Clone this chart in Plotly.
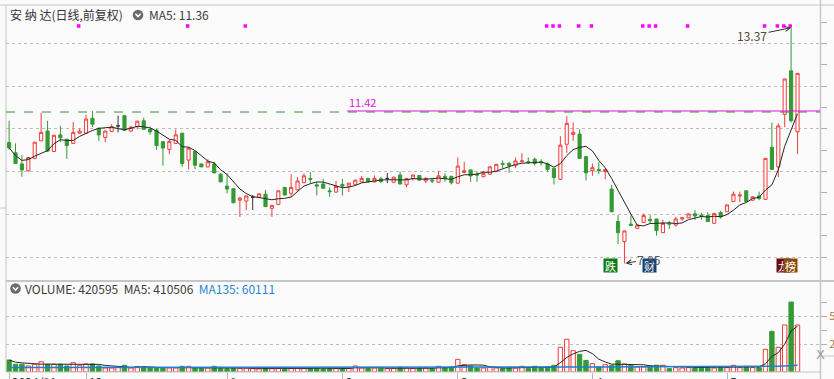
import plotly.graph_objects as go
import pandas as pd

# ---------------- data ----------------
opens = [10.68, 10.44, 10.18, 10.02, 10.31, 10.72, 10.95, 10.47, 10.86, 10.76,
         10.66, 10.90, 10.90, 11.25, 11.01, 10.80, 10.94, 11.07, 11.31, 10.95,
         11.05, 11.19, 10.99, 10.97, 10.70, 10.52, 10.66, 10.90, 10.27, 10.47,
         10.18, 10.11, 10.18, 9.94, 9.66, 9.60, 9.33, 9.31, 9.40, 9.40,
         9.47, 9.14, 9.23, 9.63, 9.49, 9.57, 9.74, 9.84, 9.69, 9.71,
         9.55, 9.52, 9.70, 9.66, 9.70, 9.76, 9.84, 9.76, 9.83, 9.84,
         9.75, 9.92, 9.69, 9.84, 9.91, 9.78, 9.80, 9.75, 9.89, 9.89,
         9.73, 9.98, 10.04, 9.94, 9.88, 9.94, 10.00, 10.19, 10.19, 10.14,
         10.23, 10.23, 10.29, 10.23, 10.18, 10.08, 9.82, 10.64, 10.87, 10.88,
         10.35, 10.02, 10.05, 10.00, 9.59, 8.83, 8.36, 8.77, 8.67, 8.81,
         8.88, 8.89, 8.57, 8.79, 8.75, 8.89, 8.92, 9.01, 8.98, 8.97,
         8.79, 9.04, 9.06, 9.30, 9.43, 9.55, 9.33, 9.43, 9.35, 10.57,
         10.11, 11.34, 12.36, 10.93]
highs = [11.19, 10.66, 10.39, 10.33, 10.69, 11.38, 11.19, 10.86, 11.07, 10.76,
         11.16, 11.01, 11.33, 11.42, 11.04, 10.96, 11.11, 11.31, 11.33, 11.07,
         11.19, 11.26, 11.06, 11.00, 10.70, 10.75, 10.99, 10.90, 10.58, 10.48,
         10.18, 10.29, 10.23, 9.97, 9.96, 9.60, 9.41, 9.43, 9.45, 9.48,
         9.57, 9.22, 9.55, 9.63, 9.94, 9.87, 9.96, 9.99, 9.76, 9.83,
         9.63, 9.78, 9.83, 9.73, 9.81, 9.90, 9.84, 9.91, 9.88, 9.97,
         9.87, 10.00, 9.85, 9.93, 9.91, 9.87, 9.84, 10.02, 9.96, 9.90,
         10.33, 10.23, 10.05, 10.00, 10.02, 10.12, 10.18, 10.26, 10.23, 10.33,
         10.43, 10.33, 10.33, 10.29, 10.21, 10.08, 10.83, 11.30, 11.15, 10.99,
         10.36, 10.19, 10.23, 10.06, 9.69, 8.98, 8.62, 8.97, 8.75, 9.02,
         8.98, 8.90, 8.87, 8.84, 8.94, 8.92, 9.01, 9.10, 9.04, 9.05,
         9.03, 9.08, 9.22, 9.53, 9.53, 9.55, 9.42, 9.53, 10.31, 11.15,
         11.13, 12.17, 13.37, 12.30]
lows = [10.51, 10.19, 9.88, 10.00, 10.29, 10.72, 10.46, 10.46, 10.69, 10.30,
        10.65, 10.88, 10.88, 11.04, 10.72, 10.69, 10.93, 10.92, 10.96, 10.93,
        10.99, 10.98, 10.86, 10.51, 10.14, 10.41, 10.65, 10.11, 10.05, 10.06,
        10.11, 10.10, 9.96, 9.75, 9.49, 9.26, 8.94, 9.10, 9.10, 9.40,
        9.17, 8.94, 9.23, 9.45, 9.41, 9.56, 9.74, 9.71, 9.44, 9.60,
        9.41, 9.51, 9.44, 9.52, 9.70, 9.76, 9.75, 9.75, 9.73, 9.73,
        9.74, 9.70, 9.63, 9.79, 9.79, 9.73, 9.73, 9.74, 9.76, 9.70,
        9.72, 9.96, 9.76, 9.76, 9.87, 9.93, 9.99, 10.08, 9.97, 10.08,
        10.22, 10.18, 10.14, 10.14, 10.00, 9.70, 9.81, 10.44, 10.72, 10.30,
        9.79, 9.90, 9.94, 9.82, 9.05, 8.30, 7.85, 8.73, 8.66, 8.80,
        8.79, 8.50, 8.56, 8.66, 8.71, 8.85, 8.92, 8.87, 8.87, 8.82,
        8.78, 8.90, 9.06, 9.29, 9.29, 9.29, 9.32, 9.33, 9.34, 10.04,
        9.87, 11.04, 11.15, 10.41]
closes = [10.56, 10.19, 10.04, 10.33, 10.69, 10.92, 10.48, 10.85, 10.79, 10.61,
          10.92, 10.95, 11.23, 11.11, 10.86, 10.95, 11.05, 11.07, 10.97, 11.04,
          11.18, 10.99, 10.93, 10.61, 10.55, 10.71, 10.86, 10.19, 10.55, 10.15,
          10.11, 10.23, 9.97, 9.76, 9.59, 9.27, 9.38, 9.43, 9.40, 9.48,
          9.18, 9.21, 9.55, 9.45, 9.63, 9.78, 9.90, 9.82, 9.66, 9.61,
          9.53, 9.65, 9.66, 9.73, 9.80, 9.84, 9.76, 9.84, 9.77, 9.84,
          9.87, 9.71, 9.84, 9.92, 9.80, 9.84, 9.78, 9.90, 9.84, 9.74,
          10.13, 10.02, 9.90, 9.92, 9.96, 10.11, 10.17, 10.17, 10.14, 10.25,
          10.25, 10.21, 10.19, 10.21, 10.05, 9.86, 10.62, 11.13, 10.92, 10.31,
          9.97, 10.09, 10.02, 10.05, 9.06, 8.57, 8.61, 8.74, 8.75, 8.97,
          8.85, 8.62, 8.79, 8.77, 8.89, 8.92, 9.01, 8.96, 8.96, 8.83,
          9.02, 8.94, 9.22, 9.47, 9.45, 9.30, 9.41, 9.37, 10.31, 10.05,
          11.07, 12.17, 11.19, 12.30]
volumes = [107000, 69000, 69000, 54000, 69000, 92000, 69000, 69000, 69000, 54000,
           83000, 60000, 72000, 72000, 54000, 36000, 36000, 40000, 60000, 36000,
           48000, 48000, 36000, 36000, 36000, 36000, 36000, 51000, 51000, 36000,
           36000, 36000, 51000, 42000, 30000, 36000, 33000, 36000, 30000, 27000,
           36000, 30000, 33000, 27000, 36000, 36000, 33000, 30000, 36000, 27000,
           30000, 33000, 36000, 33000, 54000, 36000, 33000, 36000, 36000, 30000,
           33000, 42000, 36000, 33000, 36000, 36000, 30000, 51000, 36000, 45000,
           113000, 66000, 54000, 36000, 36000, 42000, 36000, 33000, 36000, 36000,
           51000, 33000, 51000, 36000, 45000, 60000, 221000, 293000, 191000, 158000,
           104000, 75000, 45000, 66000, 60000, 101000, 72000, 60000, 45000, 45000,
           54000, 60000, 60000, 30000, 39000, 36000, 39000, 48000, 39000, 48000,
           36000, 39000, 39000, 60000, 39000, 51000, 39000, 39000, 203000, 364000,
           221000, 420935, 626000, 420595]
vol_ma135 = [41000, 41000, 40900, 40900, 40900, 40800, 40800, 40800, 40700, 40700,
             40700, 40600, 40600, 40600, 40500, 40500, 40500, 40400, 40400, 40400,
             40300, 40300, 40300, 40200, 40200, 40200, 40100, 40100, 40100, 40000,
             40000, 40000, 39900, 39900, 39900, 39800, 39800, 39800, 39700, 39700,
             39700, 39600, 39600, 39600, 39500, 39500, 39500, 39400, 39400, 39400,
             39300, 39300, 39300, 39200, 39200, 39200, 39100, 39100, 39100, 39000,
             39000, 39000, 39000, 38900, 38900, 38900, 38900, 38800, 38800, 38800,
             39400, 39600, 39700, 39700, 39700, 39700, 39700, 39700, 39700, 39700,
             39800, 39800, 39800, 39800, 39800, 39900, 41300, 43200, 44300, 45200,
             45700, 46000, 46000, 46100, 46100, 46600, 46800, 46900, 46900, 46900,
             46800, 46800, 46800, 46700, 46700, 46700, 46600, 46600, 46600, 46500,
             46500, 46500, 46400, 46500, 46400, 46400, 46300, 46300, 47800, 50200,
             51600, 54300, 58900, 60111]

month_idx = [0, 12, 34, 52, 70, 91, 112]
month_labels = ["2024/11", "12", "1", "2", "3", "4", "5"]
signal_idx = [11, 28, 37, 84, 85, 86, 89, 91, 99, 100, 101, 106, 118, 120, 121, 122]
ref_price = 11.42
ref_start = 52.7
badges = [("跌", 93.8, "#0b7a12"), ("财", 99.9, "#17406e"),
          ("龙", 120.8, "#6e0d0d"), ("榜", 121.9, "#8a4a08")]
name = "安 纳 达(日线,前复权)"

# ---------------- geometry ----------------
W, H = 834, 379
ML, MR, MT, MB = 6, 14, 5, 7
PW, PH = W - ML - MR, H - MT - MB

def pxx(p):
    return (p - ML) / PW

def pxy(p):
    return (H - MB - p) / PH

RED = "#f43c3c"
GREEN = "#349a34"
BG = "#fbfbfb"
GRID = "#bdbdbd"
FRAME = "#c6c6c6"
FONT = "Noto Sans CJK SC, Noto Sans, sans-serif"

n = len(closes)
idx = list(range(n))
doji = [o == c for o, c in zip(opens, closes)]

def pick(arr, keep):
    return [v if k else None for v, k in zip(arr, keep)]

normal = [not d for d in doji]
ma5 = pd.Series(closes).rolling(5, min_periods=1).mean().round(3).tolist()
vma5 = pd.Series(volumes).rolling(5, min_periods=1).mean().tolist()

fig = go.Figure()
fig.add_trace(go.Candlestick(
    x=idx, open=pick(opens, normal), high=pick(highs, normal),
    low=pick(lows, normal), close=pick(closes, normal),
    increasing=dict(line=dict(color=RED, width=1), fillcolor=BG),
    decreasing=dict(line=dict(color=GREEN, width=1), fillcolor=GREEN),
    whiskerwidth=0, xaxis="x", yaxis="y", showlegend=False, hoverinfo="skip"))
fig.add_trace(go.Candlestick(
    x=idx, open=pick(opens, doji), high=pick(highs, doji),
    low=pick(lows, doji), close=pick(closes, doji),
    increasing=dict(line=dict(color="#333333", width=1), fillcolor="#333333"),
    decreasing=dict(line=dict(color="#333333", width=1), fillcolor="#333333"),
    whiskerwidth=0, xaxis="x", yaxis="y", showlegend=False, hoverinfo="skip"))
fig.add_trace(go.Scatter(x=idx, y=ma5, mode="lines", line=dict(color="#262626", width=1),
                         xaxis="x", yaxis="y", showlegend=False, hoverinfo="skip"))
SIGNAL_LEVEL = 13.41
fig.add_trace(go.Scatter(x=[i - 0.15 for i in signal_idx], y=[SIGNAL_LEVEL] * len(signal_idx),
                         mode="markers", marker=dict(symbol="square", size=3.5, color="#ff00ff", line=dict(width=0)),
                         xaxis="x", yaxis="y", showlegend=False, hoverinfo="skip"))

up = [c >= o for o, c in zip(opens, closes)]
fig.add_trace(go.Bar(
    x=idx, y=volumes, width=0.68,
    marker=dict(color=[BG if u else GREEN for u in up],
                line=dict(color=[RED if u else GREEN for u in up], width=1)),
    xaxis="x2", yaxis="y2", showlegend=False, hoverinfo="skip"))
fig.add_trace(go.Scatter(x=idx, y=vma5, mode="lines", line=dict(color="#262626", width=1),
                         xaxis="x2", yaxis="y2", showlegend=False, hoverinfo="skip"))
fig.add_trace(go.Scatter(x=idx, y=vol_ma135, mode="lines", line=dict(color="#1f7ed6", width=1.5),
                         xaxis="x2", yaxis="y2", showlegend=False, hoverinfo="skip"))

xr = [(ML - 9.1) / 6.41, (W - MR - 9.1) / 6.41]
p_lo, p_hi = 8 - (280 - 257) / 42.7, 8 + (257 - MT) / 42.7
v_hi = (H - MB - 281) * 8949

shapes = []
def line(x0, y0, x1, y1, color=FRAME, width=1, dash=None):
    d = dict(type="line", xref="paper", yref="paper", x0=pxx(x0), y0=pxy(y0), x1=pxx(x1), y1=pxy(y1),
             line=dict(color=color, width=width), layer="above")
    if dash:
        d["line"]["dash"] = dash
    shapes.append(d)

line(6, 5, 6, 372)
line(0, 5, W, 5)
line(820.5, 0, 820.5, H, width=1.5)
line(6, 281, W, 281, width=2)
line(6, 372, 820, 372)
line(820, 356, W, 356)
line(0, 208, 6, 208)
# reference price lines
shapes.append(dict(type="line", xref="paper", yref="y", x0=0, x1=1, y0=ref_price - 0.025, y1=ref_price - 0.025,
                   line=dict(color="#2c9a2c", width=1, dash="dash"), layer="above"))
shapes.append(dict(type="line", xref="x", yref="y", x0=ref_start, x1=xr[1], y0=ref_price, y1=ref_price,
                   line=dict(color="#e010e0", width=1), layer="above"))
# header icons
for cx, cy in [(138, 15), (15.5, 288.5)]:
    r = 5.3
    shapes.append(dict(type="circle", xref="paper", yref="paper",
                       x0=pxx(cx - r), x1=pxx(cx + r), y0=pxy(cy + r), y1=pxy(cy - r),
                       fillcolor="#6b6b6b", line=dict(width=0), layer="above"))
    shapes.append(dict(type="path", xref="paper", yref="paper",
                       path=f"M{pxx(cx-2.6)},{pxy(cy-1.2)} L{pxx(cx)},{pxy(cy+1.5)} L{pxx(cx+2.6)},{pxy(cy-1.2)}",
                       line=dict(color="white", width=1.6), layer="above"))

ann = []
def text(x, y, t, color="#333", size=12, xanchor="left", xref="paper", yref="paper", **kw):
    ann.append(dict(x=x, y=y, xref=xref, yref=yref, text=t, showarrow=False, xanchor=xanchor,
                    yanchor="middle", font=dict(family=FONT, size=size, color=color), **kw))

text(pxx(7.5), pxy(15), name)
text(pxx(147), pxy(15), f"MA5: {ma5[-1]:.2f}", color="#3c3c3c")
text(pxx(23), pxy(288.5),
     f"VOLUME: {volumes[-1]}&nbsp;&nbsp;MA5: {round(vma5[-1])}&nbsp;&nbsp;"
     f"<span style='color:#2a86d8'>MA135: {vol_ma135[-1]}</span>", color="#3c3c3c")
text(ref_start, ref_price, f"{ref_price:.2f}", color="#e010e0", size=11, xref="x", yref="y", yshift=9)
# month labels (cut at the bottom edge)
for mi, lab in zip(month_idx, month_labels):
    ann.append(dict(x=mi + 0.2, y=pxy(371), xref="x2", yref="paper", text=lab, showarrow=False,
                    xanchor="left", yanchor="top", font=dict(family=FONT, size=12, color="#333")))
# badges
for t, bx, col in badges:
    ann.append(dict(x=bx, y=pxy(272.5), xref="x", yref="paper", text=t, showarrow=False,
                    bgcolor=col, width=13, height=13, borderpad=0,
                    font=dict(family=FONT, size=11, color="white")))
# high / low marks
hi_i = highs.index(max(highs))
lo_i = lows.index(min(lows))
ann.append(dict(x=hi_i, y=highs[hi_i], xref="x", yref="y", text=f"{highs[hi_i]:.2f}", showarrow=True,
                ax=-39, ay=8, arrowhead=5, arrowsize=1, arrowwidth=1, arrowcolor="#333", standoff=0,
                font=dict(family=FONT, size=12, color="#5a4a38")))
ann.append(dict(x=lo_i, y=lows[lo_i], xref="x", yref="y", text=f"{lows[lo_i]:.2f}", showarrow=True,
                ax=25, ay=-4, arrowhead=5, arrowsize=1, arrowwidth=1, arrowcolor="#333", standoff=1,
                font=dict(family=FONT, size=12, color="#4a5878")))
ann.append(dict(x=pxx(827.5), y=pxy(364), xref="paper", yref="paper", text="X", showarrow=False,
                font=dict(family="DejaVu Sans", size=13, color="#999")))

fig.update_layout(
    width=W, height=H, autosize=False,
    margin=dict(l=ML, r=MR, t=MT, b=MB, pad=0, autoexpand=False),
    paper_bgcolor=BG, plot_bgcolor=BG, bargap=0,
    shapes=shapes, annotations=ann,
    xaxis=dict(domain=[0, 1], range=xr, anchor="y", showticklabels=False, showgrid=False,
               zeroline=False, ticks="", matches="x2", automargin=False),
    xaxis2=dict(domain=[0, 1], range=xr, anchor="y2", showticklabels=False, showgrid=False,
                zeroline=False, tickvals=month_idx, ticks="outside", ticklen=8,
                tickcolor="#b5b5b5", tickwidth=1, automargin=False),
    yaxis=dict(domain=[pxy(280), 1], range=[p_lo, p_hi], side="right", anchor="x",
               tickvals=[8, 9, 10, 11, 12, 13], showticklabels=False, ticks="outside", ticklen=6,
               tickcolor="#b0b0b0", showgrid=True, gridcolor=GRID, griddash="dot", gridwidth=1,
               zeroline=False, automargin=False,
               minor=dict(tickvals=[8.5, 9.5, 10.5, 11.5, 12.5, 13.5], ticks="outside", ticklen=6,
                          tickcolor="#b0b0b0", showgrid=False)),
    yaxis2=dict(domain=[0, pxy(281)], range=[0, v_hi], side="right", anchor="x2",
                tickvals=[250000, 500000], ticktext=["25万", "50万"], ticks="outside", ticklen=6,
                tickcolor="#b0b0b0", showgrid=True, gridcolor=GRID, griddash="dot", zeroline=False,
                tickfont=dict(family=FONT, size=11, color="#a87a4a"), automargin=False,
                minor=dict(tickvals=[375000, 625000], ticks="outside", ticklen=6,
                           tickcolor="#b0b0b0", showgrid=False)),
)
fig.update_xaxes(rangeslider_visible=False)

clip_js = (
    "document.documentElement.style.overflow='hidden';"
    "document.body.style.margin='0';document.body.style.overflow='hidden';"
)
fig.write_html("out.html", include_plotlyjs=True,
               config={"responsive": False, "displayModeBar": False, "staticPlot": True},
               post_script=clip_js)
